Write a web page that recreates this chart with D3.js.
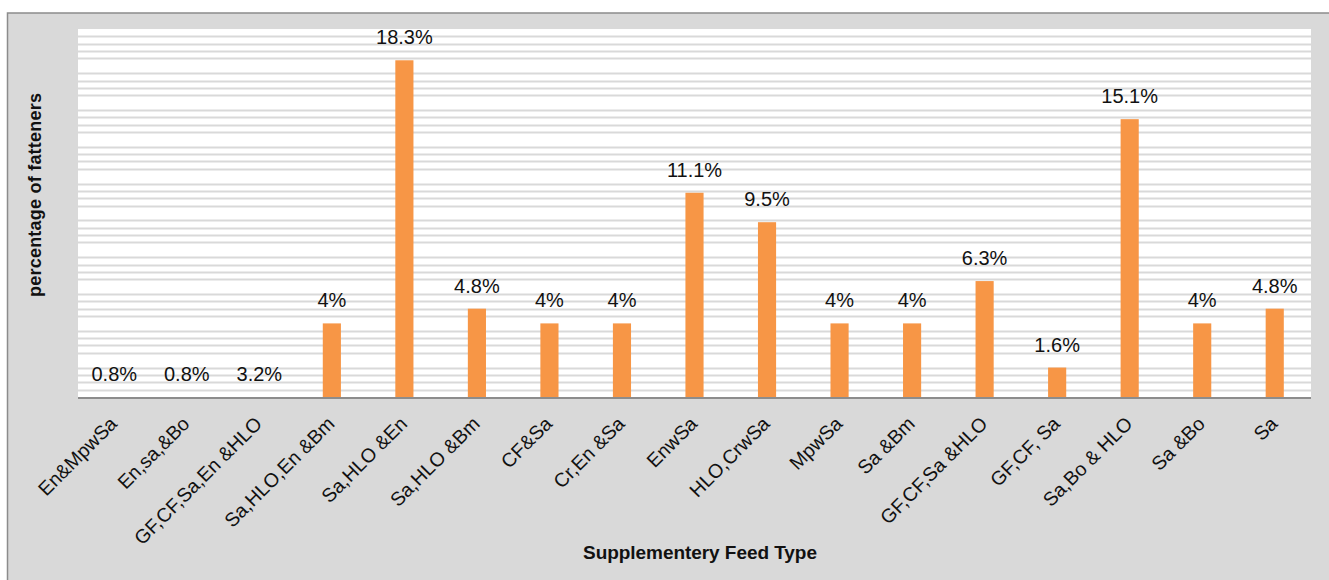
<!DOCTYPE html>
<html>
<head>
<meta charset="utf-8">
<script src="https://cdn.jsdelivr.net/npm/d3@7"></script>
<style>
  body { margin: 0; background: #fff; }
  text { font-family: "Liberation Sans", Arial, sans-serif; }
</style>
</head>
<body>
<div id="chart"></div>
<script>
let categories = ["En&MpwSa", "En,sa,&Bo", "GF,CF,Sa,En &HLO", "Sa,HLO,En &Bm", "Sa,HLO &En",
  "Sa,HLO &Bm", "CF&Sa", "Cr,En &Sa", "EnwSa", "HLO,CrwSa", "MpwSa", "Sa &Bm",
  "GF,CF,Sa &HLO", "GF,CF, Sa", "Sa,Bo & HLO", "Sa &Bo", "Sa"];
// bar heights as drawn (the first three bars are not visible in the chart)
let values = [0, 0, 0, 4, 18.3, 4.8, 4, 4, 11.1, 9.5, 4, 4, 6.3, 1.6, 15.1, 4, 4.8];
let valueLabels = ["0.8%", "0.8%", "3.2%", "4%", "18.3%", "4.8%", "4%", "4%", "11.1%", "9.5%",
  "4%", "4%", "6.3%", "1.6%", "15.1%", "4%", "4.8%"];
let yMax = 20;

let width = 1329, height = 580;
let margin = {top: 29, right: 18, bottom: 183, left: 78};

let svg = d3.select("#chart")
.append("svg")
.attr("width", width)
.attr("height", height);

// outer chart area
svg.append("rect")
.attr("x", 7.5)
.attr("y", 13)
.attr("width", width)
.attr("height", height)
.attr("fill", "#d9d9d9")
.attr("stroke", "#8c8c8c")
.attr("stroke-width", 1.5);

let x = d3.scaleBand()
.domain(categories)
.range([margin.left, width - margin.right])
.paddingInner(0.75)
.paddingOuter(0.375);

let y = d3.scaleLinear()
.domain([0, yMax])
.range([height - margin.bottom, margin.top]);

// plot area
svg.append("rect")
.attr("x", margin.left)
.attr("y", margin.top)
.attr("width", width - margin.right - margin.left)
.attr("height", y(0) - margin.top)
.attr("fill", "#fff");

// minor gridlines every 0.4, skipping the (white) major ones at multiples of 2
let minor = d3.range(0.4, yMax, 0.4).filter(function(v) {
  return Math.abs(v / 2 - Math.round(v / 2)) > 0.01;
});

svg.append("g")
.selectAll("line")
.data(minor)
.enter().append("line")
.attr("x1", margin.left)
.attr("x2", width - margin.right)
.attr("y1", d => Math.round(y(d)) + 0.5)
.attr("y2", d => Math.round(y(d)) + 0.5)
.attr("stroke", "#d9d9d9")
.attr("stroke-width", 2);

// bars
svg.append("g")
.selectAll("rect")
.data(values)
.enter().append("rect")
.attr("x", (d, i) => x(categories[i]))
.attr("y", d => y(d))
.attr("width", x.bandwidth())
.attr("height", d => y(0) - y(d))
.attr("fill", "#f79646");

// value labels
svg.append("g")
.selectAll("text")
.data(values)
.enter().append("text")
.attr("x", (d, i) => x(categories[i]) + x.bandwidth() / 2)
.attr("y", d => y(d) - 16)
.attr("text-anchor", "middle")
.attr("font-size", 20)
.attr("fill", "#111")
.text((d, i) => valueLabels[i]);

// baseline
svg.append("line")
.attr("x1", margin.left)
.attr("x2", width - margin.right)
.attr("y1", y(0) + 1)
.attr("y2", y(0) + 1)
.attr("stroke", "#8c8c8c")
.attr("stroke-width", 2);

// category labels
svg.append("g")
.selectAll("text")
.data(categories)
.enter().append("text")
.attr("transform", d => "translate(" + (x(d) + x.bandwidth() / 2 + 4) + "," + (y(0) + 28) + ") rotate(-45)")
.attr("text-anchor", "end")
.attr("font-size", 19.5)
.attr("fill", "#111")
.text(d => d);

// axis titles
svg.append("text")
.attr("x", 700)
.attr("y", 559)
.attr("text-anchor", "middle")
.attr("font-size", 19)
.attr("font-weight", "bold")
.attr("fill", "#111")
.attr("textLength", 234)
.text("Supplementery Feed Type");

svg.append("text")
.attr("transform", "translate(41,195) rotate(-90)")
.attr("text-anchor", "middle")
.attr("font-size", 18)
.attr("font-weight", "bold")
.attr("fill", "#111")
.attr("textLength", 204)
.text("percentage of fatteners");
</script>
</body>
</html>
